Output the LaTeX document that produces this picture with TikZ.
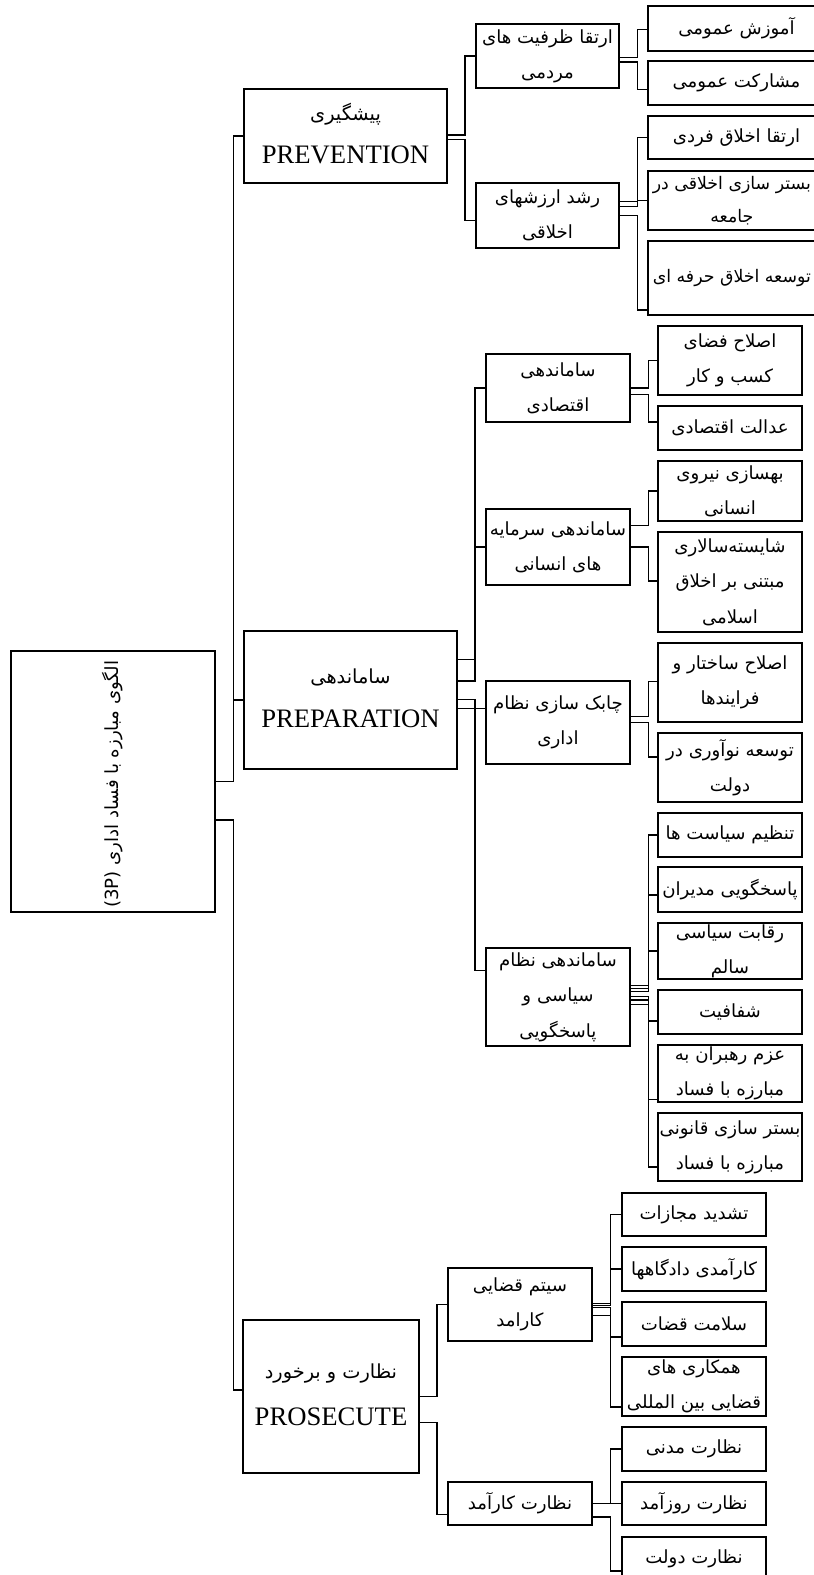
\documentclass[tikz,border=0pt]{standalone}
\usepackage{fontspec}
\setmainfont{Liberation Serif}
\newfontfamily\farsi[Script=Arabic]{DejaVu Sans}
\newfontfamily\latsans{DejaVu Sans}
\TeXXeTstate=1
\usetikzlibrary{calc}
\tikzset{
  box/.style={draw, line width=1.1pt, inner sep=0pt},
  txt/.style={font=\farsi\fontsize{13.6}{26.5}\selectfont, align=center, inner sep=0pt},
  smtxt/.style={txt, font=\farsi\fontsize{13}{25}\selectfont, xshift=-3.5pt},
  entxt/.style={font=\fontsize{20}{24}\selectfont, inner sep=0pt},
  link/.style={line width=1pt},
}
\newcommand{\bx}[6]{\node[box, minimum width={(#4-#2)*0.75pt}, minimum height={(#5-#3)*0.75pt}, label={[txt]center:{#6}}] (#1) at ({(#2+#4)/2},{(#3+#5)/2}) {};}
\newcommand{\bxs}[6]{\node[box, minimum width={(#4-#2)*0.75pt}, minimum height={(#5-#3)*0.75pt}, label={[smtxt]center:{#6}}] (#1) at ({(#2+#4)/2},{(#3+#5)/2}) {};}
\newcommand{\conn}[5]{\draw[link] ($(#1.east)+(0,#2)$) -- ++(#3,0) |- ($(#4.west)+(0,#5)$);}
\begin{document}
\begin{tikzpicture}[x=0.75pt,y=-0.75pt]
\useasboundingbox (0,0) rectangle (814,1575);
\fill[white] (0,0) rectangle (814,1575);
\clip (0,0) rectangle (814,1575);
% root
\node[box, minimum width={204*0.75pt}, minimum height={261*0.75pt},
  label={[txt, rotate=90, xshift=-2pt, font=\farsi\fontsize{13.6}{15}\selectfont]center:{\beginR الگوی مبارزه با فساد اداری \beginL{\latsans (3P)}\endL\endR}}] (root) at (113,781.5) {};
% level 1
\node[box, minimum width={203*0.75pt}, minimum height={94*0.75pt},
  label={[txt, font=\farsi\fontsize{14.5}{16}\selectfont, yshift=16pt]center:{\beginR پیشگیری\endR}},
  label={[entxt, yshift=-14.5pt]center:{PREVENTION}}] (prev) at (345.5,136) {};
\node[box, minimum width={213*0.75pt}, minimum height={138*0.75pt},
  label={[txt, font=\farsi\fontsize{14.5}{16}\selectfont, yshift=17pt]center:{\beginR ساماندهی\endR}},
  label={[entxt, yshift=-14pt]center:{PREPARATION}}] (prep) at (350.5,700) {};
\node[box, minimum width={176*0.75pt}, minimum height={153*0.75pt},
  label={[txt, font=\farsi\fontsize{14.5}{16}\selectfont, yshift=17.5pt]center:{\beginR نظارت و برخورد\endR}},
  label={[entxt, yshift=-15pt]center:{PROSECUTE}}] (pros) at (331,1396.5) {};
% level 2
\bx{A}{476}{24}{619}{88}{\beginR ارتقا ظرفیت های\endR\\\beginR مردمی\endR}
\bx{B}{476}{183}{619}{248}{\beginR رشد ارزشهای\endR\\\beginR اخلاقی\endR}
\bx{C1}{486}{354}{630}{422}{\beginR ساماندهی\endR\\\beginR اقتصادی\endR}
\bx{C2}{486}{509}{630}{585}{\beginR ساماندهی سرمایه\endR\\\beginR های انسانی\endR}
\bx{C3}{486}{681}{630}{764}{\beginR چابک سازی نظام\endR\\\beginR اداری\endR}
\bx{C4}{486}{948}{630}{1046}{\beginR ساماندهی نظام\endR\\\beginR سیاسی و\endR\\\beginR پاسخگویی\endR}
\bx{F1}{448}{1268}{592}{1341}{\beginR سیتم قضایی\endR\\\beginR کارامد\endR}
\bx{F2}{448}{1482}{592}{1525}{\beginR نظارت کارآمد\endR}
% level 3
\bx{Aa}{648}{6}{825}{51}{\beginR آموزش عمومی\endR}
\bx{Ab}{648}{61}{825}{105}{\beginR مشارکت عمومی\endR}
\bx{Ba}{648}{116}{825}{159}{\beginR ارتقا اخلاق فردی\endR}
\bxs{Bb}{648}{171}{825}{230}{\beginR بستر سازی اخلاقی در\endR\\\beginR جامعه\endR}
\bxs{Bc}{648}{241}{825}{315}{\beginR توسعه اخلاق حرفه ای\endR}
\bx{D1}{658}{326}{802}{395}{\beginR اصلاح فضای\endR\\\beginR کسب و کار\endR}
\bx{D2}{658}{406}{802}{450}{\beginR عدالت اقتصادی\endR}
\bx{D3}{658}{461}{802}{521}{\beginR بهسازی نیروی\endR\\\beginR انسانی\endR}
\bx{D4}{658}{532}{802}{632}{\beginR شایسته‌سالاری\endR\\\beginR مبتنی بر اخلاق\endR\\\beginR اسلامی\endR}
\bx{D5}{658}{643}{802}{722}{\beginR اصلاح ساختار و\endR\\\beginR فرایندها\endR}
\bx{D6}{658}{733}{802}{802}{\beginR توسعه نوآوری در\endR\\\beginR دولت\endR}
\bx{E1}{658}{813}{802}{857}{\beginR تنظیم سیاست ها\endR}
\bx{E2}{658}{867}{802}{912}{\beginR پاسخگویی مدیران\endR}
\bx{E3}{658}{923}{802}{979}{\beginR رقابت سیاسی\endR\\\beginR سالم\endR}
\bx{E4}{658}{990}{802}{1034}{\beginR شفافیت\endR}
\bx{E5}{658}{1045}{802}{1102}{\beginR عزم رهبران به\endR\\\beginR مبارزه با فساد\endR}
\bx{E6}{658}{1113}{802}{1181}{\beginR بستر سازی قانونی\endR\\\beginR مبارزه با فساد\endR}
\bx{G1}{622}{1193}{766}{1236}{\beginR تشدید مجازات\endR}
\bx{G2}{622}{1247}{766}{1291}{\beginR کارآمدی دادگاهها\endR}
\bx{G3}{622}{1302}{766}{1346}{\beginR سلامت قضات\endR}
\bx{G4}{622}{1357}{766}{1416}{\beginR همکاری های\endR\\\beginR قضایی بین المللی\endR}
\bx{H1}{622}{1427}{766}{1471}{\beginR نظارت مدنی\endR}
\bx{H2}{622}{1482}{766}{1525}{\beginR نظارت روزآمد\endR}
\bx{H3}{622}{1537}{766}{1580}{\beginR نظارت دولت\endR}
% connectors
\conn{root}{0}{17.7}{prev}{0}
\conn{root}{0}{17.7}{prep}{0}
\conn{root}{38.5}{17.7}{pros}{-6.5}
\conn{prev}{-1}{17.3}{A}{0}
\conn{prev}{3.3}{17.3}{B}{4.7}
\conn{A}{1.4}{18}{Aa}{0.7}
\conn{A}{6}{18}{Ab}{6.3}
\conn{B}{-9.3}{18}{Ba}{0}
\conn{B}{-14.3}{18}{Bb}{0}
\conn{B}{0}{18}{Bc}{32}
\conn{prep}{-40.7}{17.4}{C1}{0}
\conn{prep}{-19}{17.4}{C2}{0}
\conn{prep}{8.3}{17.4}{C3}{-14.2}
\conn{prep}{-0.7}{17.4}{C4}{-26.3}
\conn{C1}{0}{17.6}{D1}{0}
\conn{C1}{6.3}{17.6}{D2}{-6}
\conn{C2}{-21.7}{17.6}{D3}{0}
\conn{C2}{0}{17.6}{D4}{-1}
\conn{C3}{-5.8}{17.6}{D5}{-1}
\conn{C3}{0}{17.6}{D6}{-10.6}
\conn{C4}{-11.3}{17.6}{E1}{0}
\conn{C4}{-8.7}{17.6}{E2}{5.5}
\conn{C4}{-5.3}{17.6}{E3}{0}
\conn{C4}{-0.3}{17.6}{E4}{9}
\conn{C4}{3}{17.6}{E5}{25.8}
\conn{C4}{7.3}{17.6}{E6}{20}
\conn{pros}{0}{17.3}{F1}{0}
\conn{pros}{25.8}{17.3}{F2}{11}
\conn{F1}{-1}{17.7}{G1}{0}
\conn{F1}{1}{17.7}{G2}{0}
\conn{F1}{3}{17.7}{G3}{13}
\conn{F1}{11}{17.7}{G4}{20.5}
\conn{F2}{0}{17.7}{H1}{0}
\conn{F2}{0}{17.7}{H2}{0}
\conn{F2}{13.4}{17.7}{H3}{12.4}
\end{tikzpicture}
\end{document}
